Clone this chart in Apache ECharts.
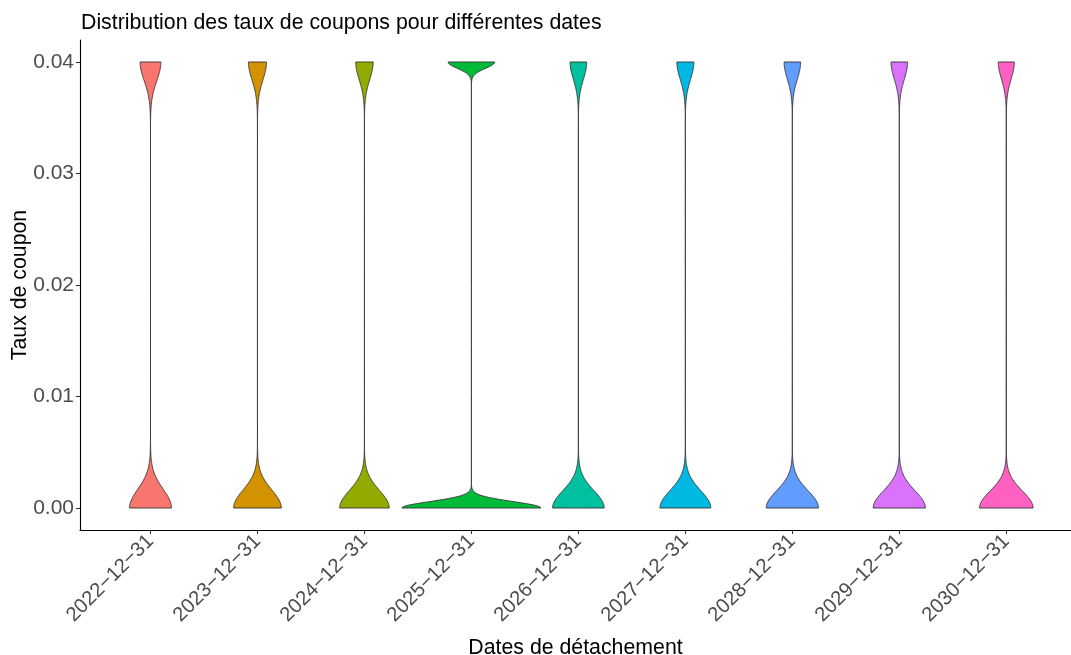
<!DOCTYPE html>
<html>
<head>
<meta charset="utf-8">
<script src="https://cdn.jsdelivr.net/npm/echarts@6/dist/echarts.min.js"></script>
<style>
  html, body { margin: 0; padding: 0; background: #ffffff; }
  #chart { width: 1071px; height: 655px; }
</style>
</head>
<body>
<div id="chart"></div>
<script>
// Coupon payment dates (one violin each)
const dates = ['2022-12-31', '2023-12-31', '2024-12-31', '2025-12-31', '2026-12-31',
               '2027-12-31', '2028-12-31', '2029-12-31', '2030-12-31'];
// Possible coupon rates paid on each date
const couponLevels = [0, 0.04];
// Share of scenarios paying the full 4% coupon, per date
const capShare = [0.331, 0.275, 0.260, 0.251, 0.244, 0.251, 0.240, 0.241, 0.231];
// Kernel bandwidth of the density estimate, per date
const bandwidth = [0.00169, 0.00161, 0.00158, 0.00057, 0.00155, 0.00156, 0.00154, 0.00154, 0.00152];
// Y axis ticks
const yTicks = [0, 0.01, 0.02, 0.03, 0.04];
// Fill colours (hue palette)
const violinColors = ['#F8766D', '#D39200', '#93AA00', '#00BA38', '#00C19F',
                      '#00B9E3', '#619CFF', '#DB72FB', '#FF61C3'];

const FONT = "'Liberation Sans', Arial, Helvetica, sans-serif";
const VIOLIN_WIDTH = 1.3;   // full width of the widest violin, in category units
const GRID_N = 512;

// Gaussian kernel density, trimmed to the data range
const yMinData = Math.min(...couponLevels), yMaxData = Math.max(...couponLevels);
const ys = [];
for (let k = 0; k < GRID_N; k++) ys.push(yMinData + (yMaxData - yMinData) * k / (GRID_N - 1));

function densityProfile(i) {
  const weights = [1 - capShare[i], capShare[i]];
  const h = bandwidth[i];
  return ys.map(y => {
    let s = 0;
    couponLevels.forEach((v, j) => {
      const z = (y - v) / h;
      s += weights[j] * Math.exp(-0.5 * z * z) / (h * Math.sqrt(2 * Math.PI));
    });
    return s;
  });
}
const densities = dates.map((_, i) => densityProfile(i));
// "area" scaling: all violins share one density scale
const maxDensity = Math.max(...densities.map(d => Math.max(...d)));
const halfWidths = densities.map(d => d.map(v => v / maxDensity * VIOLIN_WIDTH / 2));

const tickLabels = dates.map(d => d.replace(/-/g, '\u2212'));
const xTicks = dates.map((_, i) => i);

const chart = echarts.init(document.getElementById('chart'), null, { renderer: 'canvas' });

chart.setOption({
  animation: false,
  backgroundColor: '#ffffff',
  title: {
    text: 'Distribution des taux de coupons pour différentes dates',
    left: 81,
    top: 13,
    padding: 0,
    textStyle: { fontFamily: FONT, fontSize: 21.3, fontWeight: 'normal', color: '#000000' }
  },
  grid: { left: 80, right: 0, top: 40, bottom: 125, containLabel: false, outerBoundsMode: 'none' },
  xAxis: {
    type: 'value',
    min: -0.659,
    max: 8.605,
    name: 'Dates de détachement',
    nameLocation: 'middle',
    nameGap: 108,
    nameMoveOverlap: false,
    nameTextStyle: { fontFamily: FONT, fontSize: 21.3, color: '#000000' },
    axisLine: { show: true, onZero: false, lineStyle: { color: '#000000', width: 1.1 } },
    axisTick: { show: true, length: 4, customValues: xTicks, lineStyle: { color: '#333333', width: 1.1 } },
    axisLabel: {
      customValues: xTicks,
      rotate: 45,
      margin: 8,
      fontFamily: FONT,
      fontSize: 20.3,
      color: '#4D4D4D',
      formatter: v => tickLabels[Math.round(v)] || ''
    },
    splitLine: { show: false }
  },
  yAxis: {
    type: 'value',
    min: -0.001973,
    max: 0.041973,
    name: 'Taux de coupon',
    nameLocation: 'middle',
    nameRotate: 90,
    nameGap: 49,
    nameMoveOverlap: false,
    nameTextStyle: { fontFamily: FONT, fontSize: 21.3, color: '#000000' },
    axisLine: { show: true, onZero: false, lineStyle: { color: '#000000', width: 1.1 } },
    axisTick: { show: true, length: 4, customValues: yTicks, lineStyle: { color: '#333333', width: 1.1 } },
    axisLabel: {
      customValues: yTicks,
      margin: 6,
      fontFamily: FONT,
      fontSize: 21,
      color: '#4D4D4D',
      formatter: v => v.toFixed(2)
    },
    splitLine: { show: false }
  },
  series: [{
    type: 'custom',
    clip: false,
    data: dates.map((_, i) => [i, yMaxData]),
    encode: { x: 0, y: 1 },
    renderItem: (params, api) => {
      const i = api.value(0);
      const hw = halfWidths[i];
      const unit = api.size([1, 0])[0];
      const right = [], left = [];
      for (let k = 0; k < GRID_N; k++) {
        const c = api.coord([i, ys[k]]);
        right.push([c[0] + hw[k] * unit, c[1]]);
        left.push([c[0] - hw[k] * unit, c[1]]);
      }
      const pts = right.concat(left.reverse());
      return {
        type: 'polygon',
        shape: { points: pts },
        style: { fill: violinColors[i], stroke: '#333333', lineWidth: 0.9 }
      };
    }
  }]
});
</script>
</body>
</html>
